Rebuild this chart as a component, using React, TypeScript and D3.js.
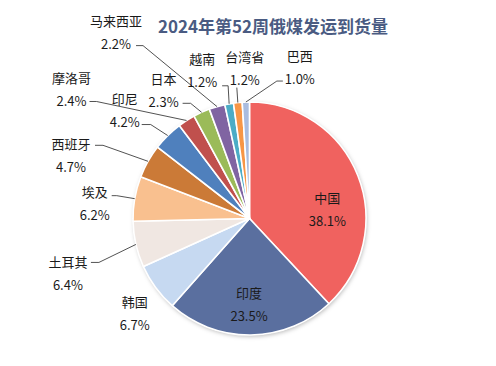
import React from 'react';
import * as d3 from 'd3';

const categories = ['中国', '印度', '韩国', '土耳其', '埃及', '西班牙', '印尼', '摩洛哥', '日本', '马来西亚', '越南', '台湾省', '巴西'];
const shares = [38.1, 23.5, 6.7, 6.4, 6.2, 4.7, 4.2, 2.4, 2.3, 2.2, 1.2, 1.2, 1.0];
const palette = ['#F0625F', '#5A6F9F', '#C6D9F1', '#F0E7E2', '#F9C08F', '#CB7A37', '#4F80BD', '#C0504D', '#9BBB59', '#8064A2', '#4BACC6', '#F79646', '#A9BCDF'];

// label placement: offset of the name line from the anchor, leader stub + elbow relative to the name
const labelLayout = {
  中国: { inside: true, dx: 2, dy: 9 },
  印度: { inside: true, dx: -1.5, dy: -7.5 },
  韩国: { dx: -21, dy: 14 },
  土耳其: { dx: -68, dy: 17, stub: [23, 1], elbow: [31, 1] },
  埃及: { dx: -40, dy: -7, stub: [17, 4], elbow: [22, 4] },
  西班牙: { dx: -77, dy: -18, stub: [24, 2], elbow: [32, 2] },
  印尼: { dx: -43, dy: -37, stub: [17, 26], elbow: [26, 26] },
  摩洛哥: { dx: -115, dy: -43, stub: [18, 24], elbow: [25, 24] },
  日本: { dx: -38, dy: -34, stub: [19, 25], elbow: [27, 25] },
  马来西亚: { dx: -101, dy: -86, stub: [20, 25], elbow: [27, 25] },
  越南: { dx: -27, dy: -45, stub: [20, 27], elbow: [26, 27] },
  台湾省: { dx: 7, dy: -46, stub: [-8, 31], elbow: [-8, 31] },
  巴西: { dx: 54, dy: -47, stub: [-17, 26], elbow: [-23, 26] },
};

const W = 496;
const H = 366;
const cx = 249.5;
const cy = 218.5;
const R = 116.5;
const font = '"Noto Sans CJK SC", "Microsoft YaHei", sans-serif';

const App = () => {
  const pie = d3.pie<number>().sort(null).value((d) => d);
  const arcs = pie(shares);
  const arc = d3.arc<d3.PieArcDatum<number>>().innerRadius(0).outerRadius(R);
  const edge = d3.arc<d3.PieArcDatum<number>>().innerRadius(R).outerRadius(R);
  const inner = d3.arc<d3.PieArcDatum<number>>().innerRadius(R * 0.7).outerRadius(R * 0.7);
  const color = d3.scaleOrdinal<string, string>().domain(categories).range(palette);

  return (
    <svg width={W} height={H} style={{ position: 'absolute', left: 0, top: 0, background: '#fff' }} fontFamily={font}>
      <defs>
        <filter id="shadow" x="-20%" y="-20%" width="140%" height="140%">
          <feDropShadow dx="1" dy="1.5" stdDeviation="2" floodColor="#000" floodOpacity="0.28" />
        </filter>
      </defs>
      <text x={273} y={25} textAnchor="middle" dominantBaseline="central" fontSize={17} fontWeight="bold" fill="#4A5B82">
        2024年第52周俄煤发运到货量
      </text>
      <g transform={`translate(${cx},${cy})`}>
        <circle r={R} fill="#fff" filter="url(#shadow)" />
        {arcs.map((d, i) => (
          <path key={categories[i]} d={arc(d) || ''} fill={color(categories[i])} stroke="#fff" strokeWidth={1.6} strokeLinejoin="round" />
        ))}
        {arcs.map((d, i) => {
          const name = categories[i];
          const lay = labelLayout[name];
          const [ax, ay] = lay.inside ? inner.centroid(d) : edge.centroid(d);
          const lx = ax + lay.dx;
          const ly = ay + lay.dy;
          const pts = lay.stub
            ? [[lx + lay.stub[0], ly + lay.stub[1]], [lx + lay.elbow[0], ly + lay.elbow[1]], [ax, ay]]
            : null;
          return (
            <g key={name}>
              {pts && (
                <polyline points={pts.map((p) => p.join(',')).join(' ')} fill="none" stroke="#262626" strokeWidth={0.8} />
              )}
              <text x={lx} y={ly} textAnchor="middle" dominantBaseline="central" fontSize={13} fill="#1a1a1a">{name}</text>
              <text x={lx} y={ly + 23} textAnchor="middle" dominantBaseline="central" fontSize={13} fill="#1a1a1a">
                {`${d3.format('.1f')(shares[i])}%`}
              </text>
            </g>
          );
        })}
      </g>
    </svg>
  );
};

export default App;
